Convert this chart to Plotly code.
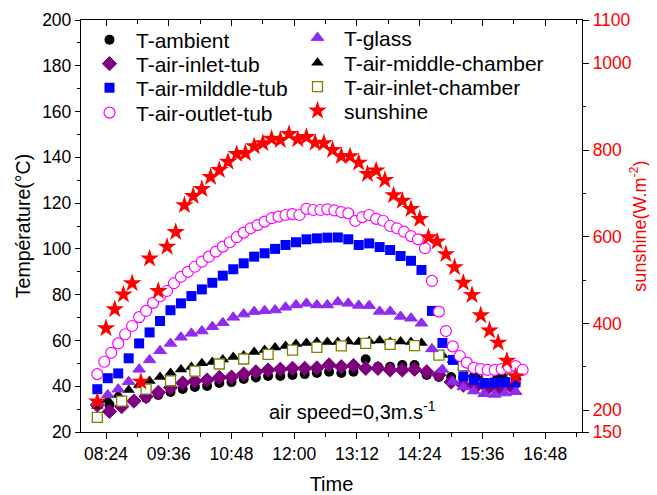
import pandas as pd
import plotly.graph_objects as go

# ---------------- data ----------------
day = "2020-01-01 "
t_sun = pd.date_range(day + "08:14", periods=49, freq="10min")
sunshine = [220, 389, 433, 467, 493, 266, 550, 475, 577, 611, 673, 694, 710, 738, 754, 773,
            791, 793, 809, 816, 826, 823, 837, 825, 830, 817, 816, 800, 786, 786, 771, 745,
            753, 731, 696, 683, 664, 641, 599, 589, 560, 530, 494, 466, 419, 384, 356, 314, 278]

t_8 = pd.date_range(day + "08:14", periods=62, freq="8min")
t_air_outlet_tub = [45.3, 50.7, 54.6, 58.7, 62.7, 66.3, 70.2, 72.9, 76.4, 79.3,
                    81.6, 85.0, 87.8, 90.0, 92.2, 94.4, 96.6, 98.8, 101.0, 102.9,
                    105.1, 107.1, 109.0, 110.4, 111.9, 113.4, 114.1, 114.8, 115.2, 114.8,
                    117.5, 117.0, 117.0, 117.3, 116.8, 116.1, 115.5, 112.2, 113.9, 114.8,
                    113.1, 112.3, 110.0, 109.0, 107.5, 105.6, 104.2, 100.3, 86.0, 72.6,
                    64.1, 57.4, 53.2, 50.3, 48.0, 47.5, 47.1, 47.1, 47.5, 48.4,
                    48.8, 47.1]

t_12 = pd.date_range(day + "08:14", periods=41, freq="12min")
t_air_middle_tub = [38.7, 43.5, 45.6, 52.2, 58.7, 63.5, 68.5, 73.2, 76.2, 79.4,
                    82.3, 85.2, 88.3, 91.1, 93.7, 96.6, 98.1, 100.0, 101.7, 102.9,
                    104.2, 104.6, 104.9, 105.0, 104.2, 101.7, 102.4, 100.8, 99.5, 96.9,
                    94.8, 90.8, 72.9, 58.9, 51.5, 44.3, 42.7, 41.4, 41.6, 41.8, 41.8]
t_glass = [32.7, 36.2, 38.7, 42.0, 47.4, 51.5, 55.5, 58.7, 61.4, 63.1,
           64.1, 66.0, 67.7, 70.1, 71.5, 72.6, 73.0, 73.3, 74.5, 75.5,
           76.2, 75.5, 75.5, 76.8, 76.2, 75.3, 75.2, 72.7, 72.7, 70.5,
           69.7, 67.5, 56.3, 47.3, 42.0, 39.7, 37.9, 36.7, 36.4, 37.0, 37.6]
t_air_middle_chamber = [31.5, 34.0, 36.2, 38.4, 40.5, 42.3, 44.0, 45.8, 47.3, 48.4,
                        50.0, 50.6, 51.7, 52.8, 53.4, 55.0, 55.8, 56.9, 57.6, 58.5,
                        58.9, 59.3, 59.3, 59.3, 59.5, 59.3, 59.8, 60.0, 59.3, 59.5,
                        59.3, 58.9, 56.3, 53.6, 51.5, 48.4, 45.3, 44.0, 43.1, 43.6, 44.0]

t_14 = pd.date_range(day + "08:14", periods=35, freq="14min")
t_ambient = [32.2, 31.8, 32.2, 33.5, 34.8, 36.2, 37.5, 38.8, 39.7, 40.1,
             41.4, 41.8, 43.2, 43.8, 44.5, 44.5, 44.9, 45.3, 45.8, 46.3,
             45.8, 46.3, 51.8, 48.5, 48.5, 49.3, 49.3, 44.9, 44.0, 44.0,
             43.6, 44.0, 44.5, 44.0, 43.6]
t_air_inlet_tub = [31.8, 29.0, 31.1, 33.5, 35.5, 37.3, 39.4, 41.4, 42.3, 42.7,
                   43.8, 44.0, 45.3, 46.3, 47.1, 47.4, 47.8, 47.8, 48.0, 49.3,
                   48.5, 49.0, 47.8, 47.8, 47.1, 47.1, 47.4, 46.3, 44.9, 41.8,
                   40.5, 39.7, 39.2, 39.2, 39.7]

t_28 = pd.date_range(day + "08:14", periods=18, freq="28min")
t_air_inlet_chamber = [26.4, 33.5, 38.7, 42.4, 46.6, 49.7, 51.9, 53.9, 55.8, 57.0,
                       57.6, 58.7, 58.3, 57.7, 53.6, 49.0, 45.3, 43.5]

x_range = [day + "07:55:18", day + "17:30:12"]
x_tick0 = day + "08:24"
y_left_range = [20, 200]
y_right_range = [150, 1100]
y_right_ticks = [150, 200, 400, 600, 800, 1000, 1100]
y_right_minor = [300, 500, 700, 900]

FONT = "Liberation Sans, Arial, sans-serif"
PURPLE = "#7f007f"
VIOLET = "#8f2cf0"

fig = go.Figure()

def add(x, y, name, symbol, size, color, line_color, lw, legend, yaxis="y"):
    fig.add_trace(go.Scatter(
        x=x, y=y, name=name, mode="markers", yaxis=yaxis, legend=legend, showlegend=True,
        marker=dict(symbol=symbol, size=size, color=color,
                    line=dict(color=line_color, width=lw))))

# drawing order (bottom -> top); each legend entry has its own legend box
add(t_14, t_ambient, "T-ambient", "circle", 10, "black", "black", 0, "legend")
add(t_14, t_air_inlet_tub, "T-air-inlet-tub", "diamond", 11, PURPLE, PURPLE, 1, "legend2")
add(t_12, t_air_middle_chamber, "T-air-middle-chamber", "triangle-up", 11, "black", "black", 0, "legend6")
add(t_28, t_air_inlet_chamber, "T-air-inlet-chamber", "square", 10, "white", "#808000", 1.3, "legend7")
add(t_12, t_glass, "T-glass", "triangle-up", 11, VIOLET, VIOLET, 1, "legend5")
add(t_12, t_air_middle_tub, "T-air-milddle-tub", "square", 10, "#0000ff", "#0000ff", 0, "legend3")
add(t_8, t_air_outlet_tub, "T-air-outlet-tub", "circle", 11, "white", "#ff00ff", 1.2, "legend4")
add(t_sun, sunshine, "sunshine", "star", 14, "#ff0000", "#ff0000", 0, "legend8", yaxis="y2")

# empty trace to anchor the top (inside-tick) axis
fig.add_trace(go.Scatter(x=[], y=[], xaxis="x2", yaxis="y", showlegend=False, hoverinfo="skip"))

tick_font = dict(family=FONT, size=17.5, color="black")
common_x = dict(type="date", range=x_range, tick0=x_tick0, dtick=72 * 60 * 1000,
                showgrid=False, zeroline=False, showline=True, linecolor="black", linewidth=1.3,
                tickcolor="black", tickwidth=1.3, automargin=False)

# plot area: 501 x 412 px; page body has an 8 px margin
PW, PH = 501, 412
def lx(px):
    return (px - 81) / PW
def ly(py):
    return (432 - py) / PH

leg_font = dict(family=FONT, size=21, color="black")
def leg(xpx, ypx):
    return dict(x=lx(xpx), y=ly(ypx), xanchor="left", yanchor="middle",
                bgcolor="rgba(0,0,0,0)", font=leg_font, itemwidth=43, visible=True)

fig.update_layout(
    width=649, height=487,
    margin=dict(l=73, r=75, t=12, b=63, autoexpand=False),
    showlegend=True,
    paper_bgcolor="white", plot_bgcolor="white",
    font=dict(family=FONT, color="black"),
    xaxis=dict(**common_x, tickformat="%H:%M", ticks="outside", ticklen=6, tickfont=tick_font,
               minor=dict(tick0=x_tick0, dtick=36 * 60 * 1000, ticks="outside", ticklen=4,
                          tickcolor="black", tickwidth=1.3),
               title=dict(text="Time", font=dict(family=FONT, size=20), standoff=14)),
    xaxis2=dict(**common_x, overlaying="x", side="top", ticks="inside", ticklen=6,
                showticklabels=False,
                minor=dict(tick0=x_tick0, dtick=36 * 60 * 1000, ticks="inside", ticklen=4,
                           tickcolor="black", tickwidth=1.3)),
    yaxis=dict(range=y_left_range, dtick=20, ticks="outside", ticklen=5, tickcolor="black",
               tickwidth=1.3, showline=True, linecolor="black", linewidth=1.3, showgrid=False,
               zeroline=False, tickfont=tick_font, automargin=False,
               minor=dict(dtick=10, ticks="outside", ticklen=3, tickcolor="black", tickwidth=1.3),
               title=dict(text="Température(°C)", font=dict(family=FONT, size=19.5), standoff=6)),
    yaxis2=dict(overlaying="y", side="right", range=y_right_range, tickmode="array",
                tickvals=y_right_ticks, ticks="outside", ticklen=6, tickcolor="black",
                tickwidth=1.3, showline=True, linecolor="black", linewidth=1.3, showgrid=False,
                zeroline=False, tickfont=dict(family=FONT, size=17.5, color="#ff0000"),
                automargin=False,
                minor=dict(tickmode="array", tickvals=y_right_minor, ticks="outside", ticklen=3,
                           tickcolor="black", tickwidth=1.3),
                title=dict(text="sunshine(W.m<sup>-2</sup>)",
                           font=dict(family=FONT, size=18, color="#ff0000"), standoff=2)),
    legend=leg(83, 40),
    legend2=leg(83, 64),
    legend3=leg(83, 88),
    legend4=leg(83, 113),
    legend5=leg(291, 38),
    legend6=leg(291, 63),
    legend7=leg(291, 87),
    legend8=leg(291, 111),
    annotations=[dict(text="air speed=0,3m.s<sup>-1</sup>", xref="paper", yref="paper",
                      x=lx(352), y=ly(410), xanchor="center", yanchor="middle", showarrow=False,
                      font=dict(family=FONT, size=20, color="black"))],
)

fig.write_html("out.html")
